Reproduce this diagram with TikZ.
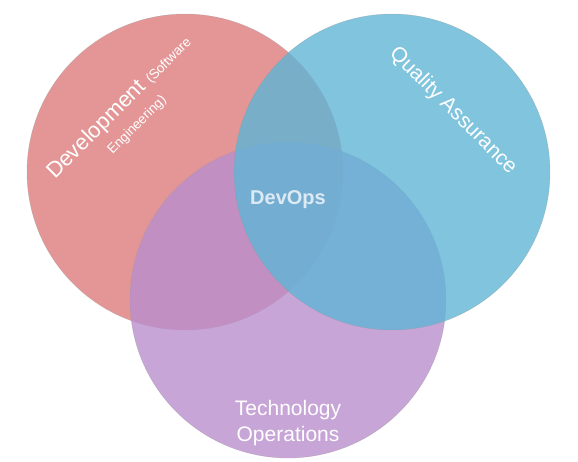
\documentclass[tikz,border=0pt]{standalone}
\usepackage{fontspec}
\setmainfont{Liberation Sans}
\definecolor{devred}{RGB}{221,124,124}
\definecolor{qablue}{RGB}{96,181,214}
\definecolor{opspurple}{RGB}{186,142,205}
\begin{document}
\begin{tikzpicture}[x=1pt,y=-1pt,
    set/.style={circle,minimum size=316pt,inner sep=0pt,fill opacity=0.8,
      draw=black!40,draw opacity=0.5,line width=0.4pt},
    lbl/.style={text=white,font=\fontsize{21}{26}\selectfont,align=center}]
  \useasboundingbox (0,0) rectangle (578,461);
  % the three sets, blue last so it lies on top
  \foreach \n/\c/\x/\y in {dev/devred/185/172,ops/opspurple/288/300,qa/qablue/392/172}
    \node[set,fill=\c] (\n) at (\x,\y) {};
  \node[lbl,rotate=45,font=\fontsize{22}{26}\selectfont] (devtext) at (127,115)
    {Development {\fontsize{13.5}{16}\selectfont(Software}\\[-3pt]{\fontsize{13.5}{16}\selectfont Engineering)}};
  \node[lbl,rotate=-45] (qatext) at (453,111) {Quality Assurance};
  \node[lbl] (opstext) at (288,423) {Technology\\Operations};
  \node[text=white,text opacity=0.75,font=\fontsize{20}{24}\selectfont\bfseries] (devops) at (288,200) {DevOps};
\end{tikzpicture}
\end{document}
